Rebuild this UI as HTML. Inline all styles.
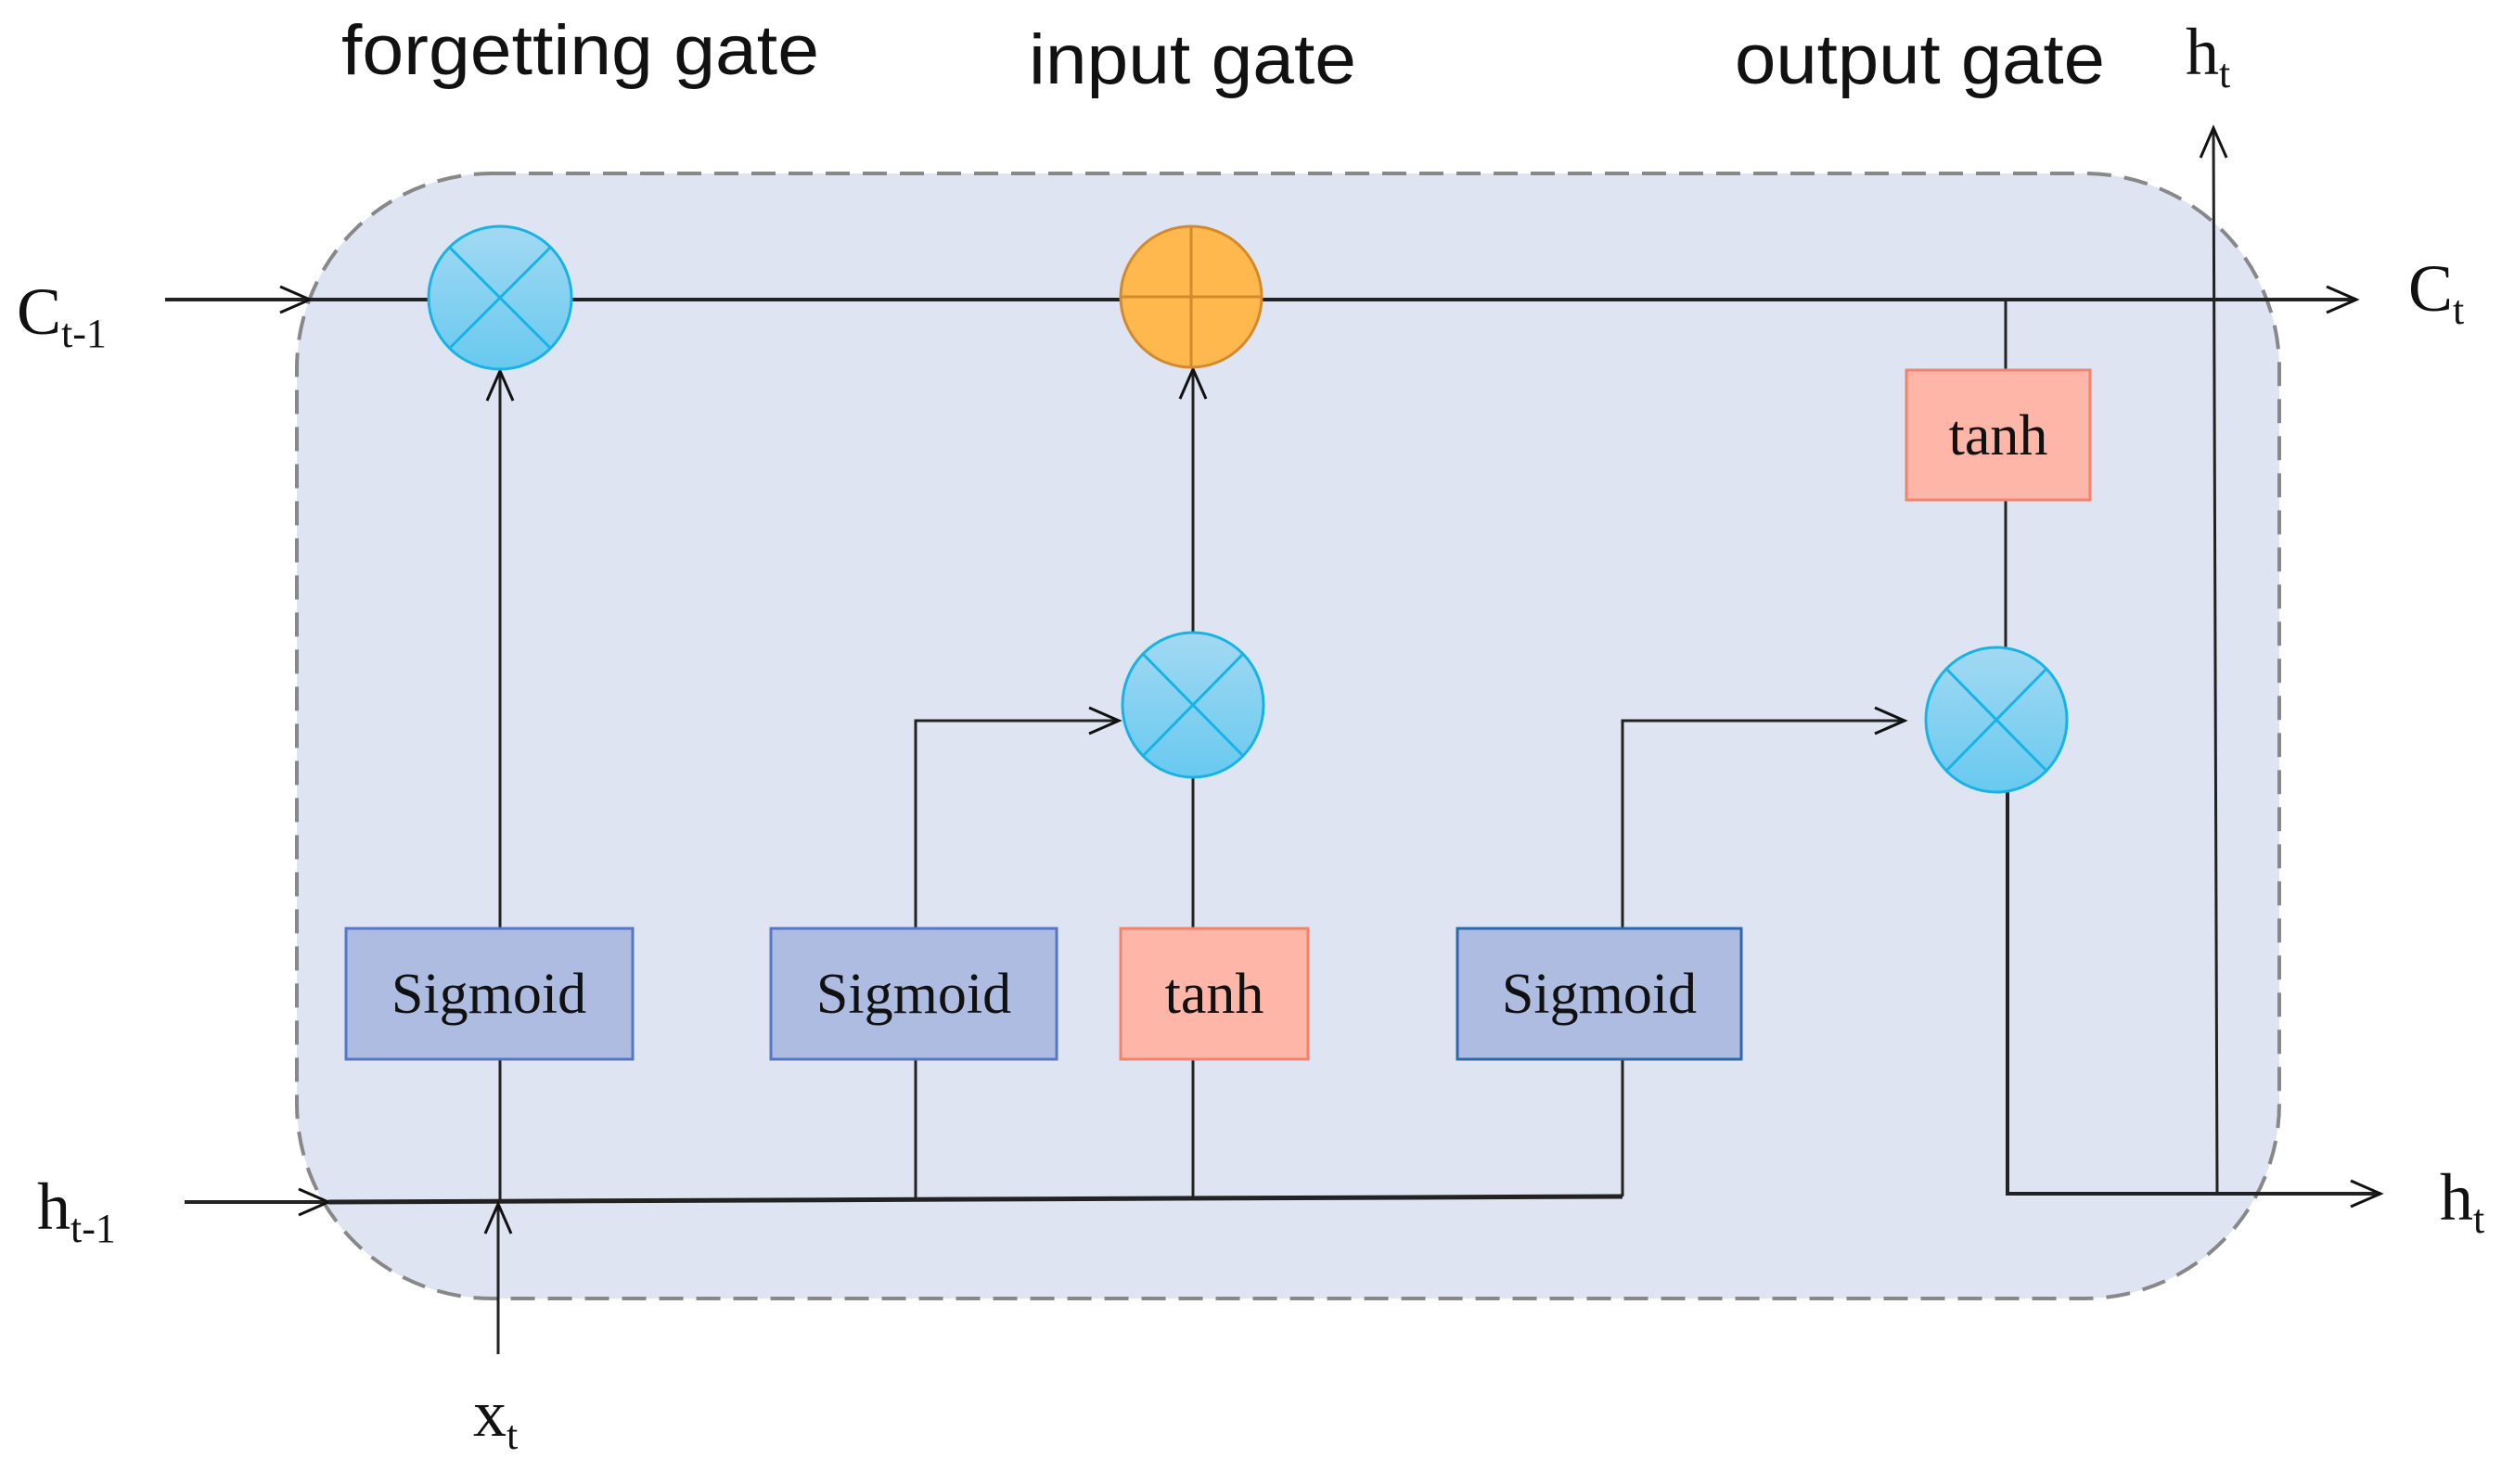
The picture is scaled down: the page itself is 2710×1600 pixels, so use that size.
<!DOCTYPE html>
<html><head><meta charset="utf-8"><style>html,body{margin:0;padding:0;background:#fff;}svg{display:block}</style></head>
<body>
<svg width="2710" height="1600" viewBox="0 0 2710 1600" xmlns="http://www.w3.org/2000/svg">
<defs>
<linearGradient id="cg" x1="0" y1="0" x2="0" y2="1"><stop offset="0" stop-color="#A2D9F3"/><stop offset="1" stop-color="#68C9EF"/></linearGradient>
<marker id="ar" viewBox="0 0 20 20" refX="18" refY="10" markerWidth="20" markerHeight="20" markerUnits="userSpaceOnUse" orient="auto"><path d="M2 2 L18 10 L2 18" fill="none" stroke="#111" stroke-width="3"/></marker>
<marker id="ar2" viewBox="0 0 40 40" refX="36" refY="20" markerWidth="40" markerHeight="40" markerUnits="userSpaceOnUse" orient="auto"><path d="M4 6 L36 20 L4 34" fill="none" stroke="#111" stroke-width="3"/></marker>
</defs>
<rect x="320" y="187" width="2137" height="1213" rx="210" ry="210" fill="#DFE4F2" stroke="#888" stroke-width="4" stroke-dasharray="26 14"/>
<g stroke="#222" fill="none">
<line x1="178" y1="323" x2="334" y2="323" stroke-width="4" marker-end="url(#ar2)"/>
<line x1="334" y1="323" x2="2540" y2="323" stroke-width="4" marker-end="url(#ar2)"/>
<line x1="199" y1="1296" x2="354" y2="1296" stroke-width="4" marker-end="url(#ar2)"/>
<line x1="354" y1="1296" x2="1749" y2="1290" stroke-width="5"/>
<line x1="537" y1="1460" x2="537" y2="1298" stroke-width="3" marker-end="url(#ar2)"/>
<line x1="539" y1="1296" x2="539" y2="400" stroke-width="3" marker-end="url(#ar2)"/>
<polyline points="987,1294 987,777 1206,777" stroke-width="3" marker-end="url(#ar2)"/>
<line x1="1286" y1="1292" x2="1286" y2="838"  stroke-width="3"/>
<line x1="1286" y1="682" x2="1286" y2="398" stroke-width="3" marker-end="url(#ar2)"/>
<polyline points="1749,1290 1749,777 2053,777" stroke-width="3" marker-end="url(#ar2)"/>
<line x1="2162" y1="323" x2="2162" y2="700" stroke-width="3"/>
<polyline points="2164,852 2164,1287 2566,1287" stroke-width="4" marker-end="url(#ar2)"/>
<line x1="2390" y1="1287" x2="2386" y2="138" stroke-width="3" marker-end="url(#ar2)"/>
</g>
<!-- circles -->
<g stroke="#17B3E6" stroke-width="3">
<ellipse cx="539" cy="321" rx="77" ry="77" fill="url(#cg)"/>
<line x1="485" y1="267" x2="593" y2="375"/><line x1="593" y1="267" x2="485" y2="375"/>
<ellipse cx="1286" cy="760" rx="76" ry="78" fill="url(#cg)"/>
<line x1="1232" y1="705" x2="1340" y2="815"/><line x1="1340" y1="705" x2="1232" y2="815"/>
<ellipse cx="2152" cy="776" rx="76" ry="78" fill="url(#cg)"/>
<line x1="2098" y1="721" x2="2206" y2="831"/><line x1="2206" y1="721" x2="2098" y2="831"/>
</g>
<g stroke="#D38A2E" stroke-width="3">
<ellipse cx="1284" cy="320" rx="76" ry="76" fill="#FFB84D"/>
<line x1="1208" y1="320" x2="1360" y2="320"/><line x1="1284" y1="244" x2="1284" y2="396"/>
</g>
<!-- boxes -->
<g stroke-width="3">
<rect x="373" y="1001" width="309" height="141" fill="#ADBCE0" stroke="#5577C8"/>
<rect x="831" y="1001" width="308" height="141" fill="#ADBCE0" stroke="#5577C8"/>
<rect x="1208" y="1001" width="202" height="141" fill="#FDB6A8" stroke="#F4836E"/>
<rect x="1571" y="1001" width="306" height="141" fill="#ADBCE0" stroke="#2E68AE"/>
<rect x="2055" y="399" width="198" height="140" fill="#FDB6A8" stroke="#F4836E"/>
</g>
<g font-family="'Liberation Serif',serif" font-size="62" fill="#111" text-anchor="middle">
<text x="527" y="1092">Sigmoid</text>
<text x="985" y="1092">Sigmoid</text>
<text x="1309" y="1092">tanh</text>
<text x="1724" y="1092">Sigmoid</text>
<text x="2154" y="490">tanh</text>
</g>
<g font-family="'Liberation Sans',sans-serif" font-size="76" fill="#111">
<text x="368" y="80" textLength="515" lengthAdjust="spacingAndGlyphs">forgetting gate</text>
<text x="1109" y="90" textLength="353" lengthAdjust="spacingAndGlyphs">input gate</text>
<text x="1870" y="90" textLength="399" lengthAdjust="spacingAndGlyphs">output gate</text>
</g>
<g font-family="'Liberation Serif',serif" font-size="72" fill="#111">
<text x="18" y="360">C<tspan font-size="44" dy="14">t-1</tspan></text>
<text x="2596" y="335">C<tspan font-size="44" dy="14">t</tspan></text>
<text x="40" y="1325">h<tspan font-size="44" dy="14">t-1</tspan></text>
<text x="2630" y="1315">h<tspan font-size="44" dy="14">t</tspan></text>
<text x="2356" y="80">h<tspan font-size="44" dy="14">t</tspan></text>
<text x="510" y="1548">x<tspan font-size="44" dy="14">t</tspan></text>
</g>
</svg>
</body></html>
